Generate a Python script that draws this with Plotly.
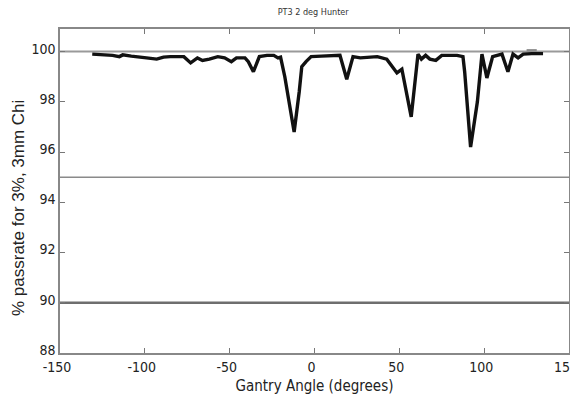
import plotly.graph_objects as go

# Gantry angle (degrees) and pass rate (%)
angle = [-131, -125, -119, -115, -113, -108, -103, -99, -93, -89, -85, -80, -77, -73, -69,
         -66, -62, -57, -53, -49, -46, -41, -39, -36, -32.5, -28, -24, -21.5, -20, -17.5,
         -14.5, -12, -9, -7.5, -5, -2, 4, 10, 15, 19, 22.7, 27, 33, 37, 42.6, 45.6, 48.6,
         51.5, 57, 61, 63, 65.5, 68, 71.5, 75, 80, 84, 87.5, 88.5, 92, 96, 98.7, 101.6,
         105, 110.5, 114, 117, 120, 123, 128, 134.7]
passrate = [99.9, 99.88, 99.85, 99.8, 99.87, 99.82, 99.8, 99.75, 99.7, 99.78, 99.8, 99.8,
            99.8, 99.55, 99.75, 99.65, 99.7, 99.8, 99.75, 99.6, 99.75, 99.75, 99.6, 99.2,
            99.8, 99.85, 99.85, 99.75, 99.78, 99.0, 97.8, 96.8, 98.4, 99.4, 99.6, 99.8,
            99.82, 99.85, 99.85, 98.9, 99.8, 99.75, 99.8, 99.8, 99.7, 99.4, 99.15, 99.3,
            97.4, 99.9, 99.7, 99.85, 99.7, 99.65, 99.85, 99.85, 99.85, 99.8, 99.2, 96.2,
            98.0, 99.9, 98.95, 99.8, 99.9, 99.2, 99.9, 99.75, 99.9, 99.92, 99.92]

# short faint segment just above 100 near the right end
extra_angle = [125, 131]
extra_rate = [100.05, 100.05]

# reference thresholds
ref_levels = [100, 95, 90]
ref_colors = ["#9a9a9a", "#8a8a8a", "#6e6e6e"]
ref_widths = [2, 1.6, 2.6]

x_ticks = [-150, -100, -50, 0, 50, 100, 150]
y_ticks = [88, 90, 92, 94, 96, 98, 100]

fig = go.Figure()
for lvl, c, w in zip(ref_levels, ref_colors, ref_widths):
    fig.add_trace(go.Scatter(x=[-150, 150], y=[lvl, lvl], mode="lines",
                             line=dict(color=c, width=w), hoverinfo="skip"))
fig.add_trace(go.Scatter(x=extra_angle, y=extra_rate, mode="lines",
                         line=dict(color="#8c8c8c", width=2.5)))
fig.add_trace(go.Scatter(x=angle, y=passrate, mode="lines",
                         line=dict(color="#111111", width=3.4)))

narrow = "DejaVu Sans Condensed, Liberation Sans Narrow, Arial Narrow, Liberation Sans, Arial, sans-serif"
regular = "Liberation Sans, Arial, sans-serif"
fig.update_layout(
    width=578, height=387,
    margin=dict(l=52, r=17, t=21, b=42),
    paper_bgcolor="white", plot_bgcolor="white",
    showlegend=False,
    title=dict(text="PT3 2 deg Hunter", x=0.528, xanchor="center", y=0.998, yanchor="top",
               font=dict(family=narrow, size=9, color="#333")),
    font=dict(family=narrow, color="#222"),
    annotations=[dict(text="% passrate for 3%, 3mm Chi", textangle=-90,
                      xref="paper", yref="paper", x=0, y=0.5, xanchor="center", yanchor="middle",
                      xshift=-42, yshift=-17, showarrow=False,
                      font=dict(size=17, family=regular, color="#222"))],
)
fig.update_xaxes(range=[-150, 150], tickvals=x_ticks, ticktext=[str(v) for v in x_ticks],
                 showgrid=False, zeroline=False, ticks="inside", ticklen=5,
                 tickcolor="#777", linecolor="#888", linewidth=1.5, mirror="ticks",
                 showline=True, automargin=False, ticklabelshift=-3,
                 tickfont=dict(size=14, family=narrow, color="#222"),
                 title=dict(text="Gantry Angle (degrees)", standoff=8,
                            font=dict(size=15, family=narrow, color="#222")))
fig.update_yaxes(range=[88, 100.9], tickvals=y_ticks, ticktext=[str(v) for v in y_ticks],
                 showgrid=False, zeroline=False, ticks="inside", ticklen=5,
                 tickcolor="#777", linecolor="#888", linewidth=1.5, mirror="ticks",
                 showline=True, automargin=False, ticklabelshift=-3,
                 tickfont=dict(size=14, family=narrow, color="#222"))

fig.write_html("out.html")
